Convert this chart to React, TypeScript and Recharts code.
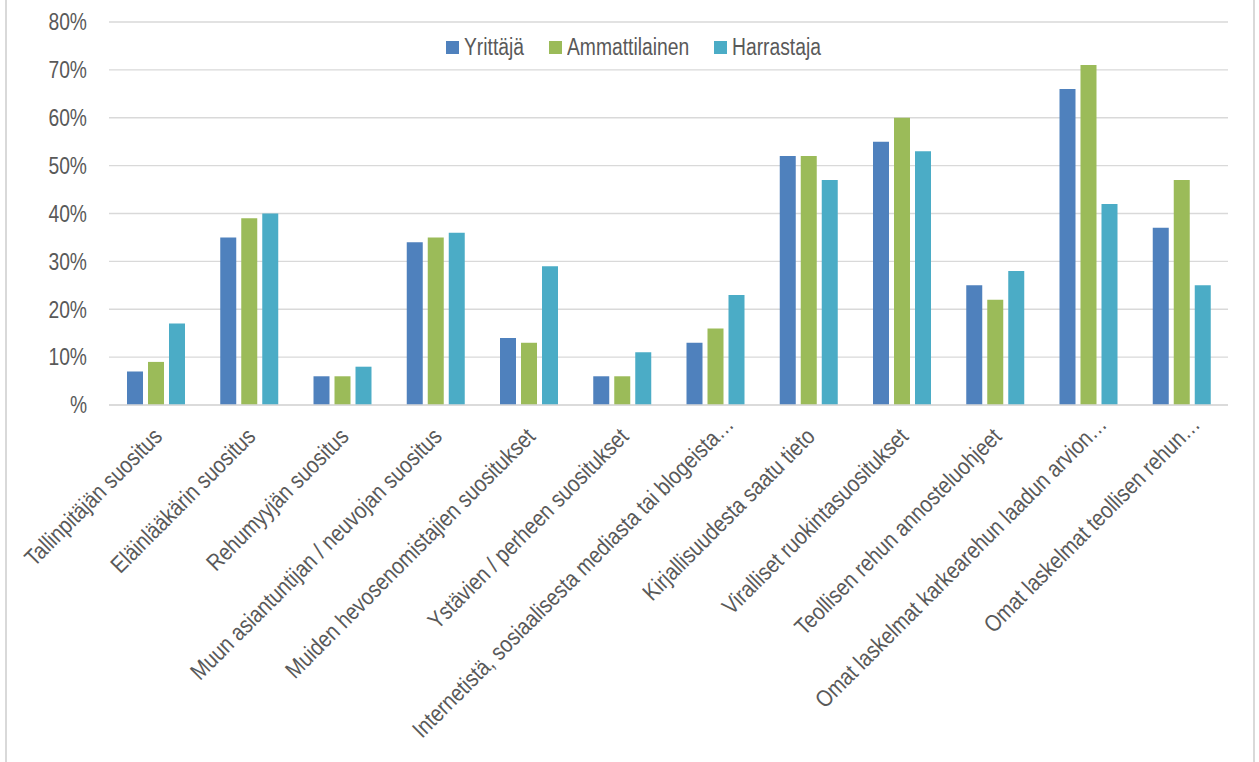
import React from 'react';
import { BarChart, Bar, XAxis, YAxis, CartesianGrid, Legend } from 'recharts';

const categories = [
  'Tallinpitäjän suositus',
  'Eläinlääkärin suositus',
  'Rehumyyjän suositus',
  'Muun asiantuntijan / neuvojan suositus',
  'Muiden hevosenomistajien suositukset',
  'Ystävien / perheen suositukset',
  'Internetistä, sosiaalisesta mediasta tai blogeista…',
  'Kirjallisuudesta saatu tieto',
  'Viralliset ruokintasuositukset',
  'Teollisen rehun annosteluohjeet',
  'Omat laskelmat karkearehun laadun arvion…',
  'Omat laskelmat teollisen rehun…',
];

const yrittaja = [7, 35, 6, 34, 14, 6, 13, 52, 55, 25, 66, 37];
const ammattilainen = [9, 39, 6, 35, 13, 6, 16, 52, 60, 22, 71, 47];
const harrastaja = [17, 40, 8, 36, 29, 11, 23, 47, 53, 28, 42, 25];

const seriesNames = ['Yrittäjä', 'Ammattilainen', 'Harrastaja'];
const seriesColors = ['#4F81BD', '#9BBB59', '#4BACC6'];

const yTicks = [0, 10, 20, 30, 40, 50, 60, 70, 80];

// no Arial Narrow here, so squeeze Liberation Sans horizontally
const FONT = "'Liberation Sans', Arial, sans-serif";
const NARROW = 0.82;
const TEXT = '#595959';
const GRID = '#D9D9D9';

const data = categories.map((name, i) => ({
  name,
  [seriesNames[0]]: yrittaja[i],
  [seriesNames[1]]: ammattilainen[i],
  [seriesNames[2]]: harrastaja[i],
}));

let ctx: CanvasRenderingContext2D | null = null;
function textWidth(s: string, size: number) {
  if (!ctx) ctx = document.createElement('canvas').getContext('2d');
  if (!ctx) return s.length * size * 0.5;
  ctx.font = `${size}px 'Liberation Sans', Arial, sans-serif`;
  return ctx.measureText(s).width;
}

const XTick = (props: any) => {
  const { x, y, payload } = props;
  const label: string = payload.value;
  // Excel pushes truncated labels a bit further along the diagonal
  const shift = label.endsWith('…') ? 12 : 0;
  const ax = x + 8 + shift;
  const ay = y + 31 - shift;
  return (
    <text
      x={0}
      y={0}
      transform={`translate(${ax}, ${ay}) rotate(-45) scale(0.85, 1)`}
      textAnchor="end"
      fontSize={23.5}
      fontFamily={FONT}
      fill={TEXT}
    >
      {label}
    </text>
  );
};

const YTick = (props: any) => {
  const { x, y, payload } = props;
  const v = payload.value;
  return (
    <text
      x={0}
      y={0}
      dy="0.355em"
      transform={`translate(${x}, ${y}) scale(${NARROW}, 1)`}
      textAnchor="end"
      fontSize={23.5}
      fontFamily={FONT}
      fill={TEXT}
    >
      {v === 0 ? '%' : `${v}%`}
    </text>
  );
};

const renderLegend = () => (
  <div style={{ display: 'flex', justifyContent: 'center', alignItems: 'center', fontFamily: FONT, fontSize: 23.5, color: TEXT, height: 28 }}>
    {seriesNames.map((name, i) => {
      const w = textWidth(name, 23.5);
      return (
        <div key={name} style={{ display: 'flex', alignItems: 'center', marginLeft: i === 0 ? 0 : 25 }}>
          <span style={{ display: 'inline-block', width: 13, height: 13, background: seriesColors[i], marginRight: 5 }} />
          <span style={{ display: 'inline-block', width: w * NARROW, whiteSpace: 'nowrap' }}>
            <span style={{ display: 'inline-block', transform: `scaleX(${NARROW})`, transformOrigin: 'left center' }}>{name}</span>
          </span>
        </div>
      );
    })}
  </div>
);

export default function App() {
  return (
    <div style={{ position: 'absolute', left: 0, top: 0, width: 1259, height: 762, background: '#fff', overflow: 'hidden' }}>
      <div
        style={{
          position: 'absolute',
          left: 5,
          top: -4,
          width: 1246,
          height: 780,
          borderLeft: `2px solid ${GRID}`,
          borderRight: `2px solid ${GRID}`,
        }}
      />
      <div style={{ position: 'absolute', left: 0, top: 0 }}>
        <BarChart
          width={1259}
          height={762}
          data={data}
          margin={{ top: 22, right: 31, left: 0, bottom: 0 }}
          barSize={16}
          barGap={5}
        >
          <CartesianGrid vertical={false} stroke={GRID} strokeWidth={1.3} />
          <XAxis
            dataKey="name"
            interval={0}
            height={357}
            tick={<XTick />}
            tickLine={false}
            tickSize={0}
            axisLine={{ stroke: GRID, strokeWidth: 1.5 }}
          />
          <YAxis
            width={109}
            domain={[0, 80]}
            ticks={yTicks}
            axisLine={false}
            tickLine={false}
            tickSize={0}
            tickMargin={22}
            tick={<YTick />}
          />
          <Legend
            verticalAlign="middle"
            layout="horizontal"
            width={1259}
            wrapperStyle={{ top: 33, left: 4 }}
            content={renderLegend}
          />
          {seriesNames.map((name, i) => (
            <Bar key={name} dataKey={name} fill={seriesColors[i]} isAnimationActive={false} />
          ))}
        </BarChart>
      </div>
    </div>
  );
}
